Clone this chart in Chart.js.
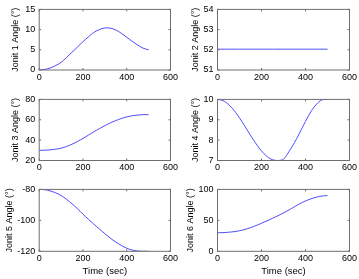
<!DOCTYPE html>
<html>
<head>
<meta charset="utf-8">
<script src="https://cdn.jsdelivr.net/npm/chart.js@4.4.1/dist/chart.umd.min.js"></script>
<style>
  body { margin: 0; background: #fff; }
  canvas { position: absolute; }
</style>
</head>
<body>
<canvas id="j1" style="left:0px;top:0px"></canvas>
<canvas id="j2" style="left:180px;top:0px"></canvas>
<canvas id="j3" style="left:0px;top:90px"></canvas>
<canvas id="j4" style="left:180px;top:90px"></canvas>
<canvas id="j5" style="left:0px;top:180px"></canvas>
<canvas id="j6" style="left:180px;top:180px"></canvas>
<script>
// time samples (sec)
const times = [0, 25, 50, 75, 100, 125, 150, 175, 200, 225, 250, 275, 300, 325, 350, 375, 400, 425, 450, 475, 500];

// joint angles (deg)
const joint1 = [0, 0.15, 0.5, 1.1, 1.9, 3.1, 4.4, 5.7, 7.0, 8.2, 9.3, 10.0, 10.4, 10.35, 9.9, 9.1, 8.1, 7.1, 6.2, 5.4, 5.0];
const joint2 = [52.03, 52.03, 52.03, 52.03, 52.03, 52.03, 52.03, 52.03, 52.03, 52.03, 52.03, 52.03, 52.03, 52.03, 52.03, 52.03, 52.03, 52.03, 52.03, 52.03, 52.03];
const joint3 = [30, 30.1, 30.5, 31.1, 32.1, 33.8, 36, 38.7, 41.7, 44.9, 48.2, 51.3, 54.2, 56.9, 59.2, 61.2, 62.8, 63.9, 64.6, 65, 65];
const joint4 = [10, 9.94, 9.75, 9.46, 9.09, 8.67, 8.24, 7.83, 7.47, 7.2, 7.04, 7.0, 7.07, 7.44, 7.88, 8.39, 8.92, 9.4, 9.76, 9.98, 10];
const joint5 = [-80, -80.2, -81, -82.2, -84, -86.4, -89.3, -92.5, -96, -99.3, -102.5, -105.6, -108.6, -111.5, -114, -116.2, -118, -119.2, -119.8, -120, -120];
const joint6 = [30, 30.2, 30.8, 31.7, 33.2, 35.3, 38.2, 41.6, 45.3, 49.2, 53.3, 57.5, 62, 66.8, 72, 77, 81.3, 84.8, 87.5, 89.3, 90];

// y axis limits [min, max, step]
const yLimits1 = [0, 15, 5];
const yLimits2 = [51, 54, 1];
const yLimits3 = [20, 80, 20];
const yLimits4 = [7, 10, 1];
const yLimits5 = [-120, -80, 20];
const yLimits6 = [0, 100, 50];

const FONT = 'Liberation Sans, Arial, sans-serif';

// MATLAB style box with inward ticks
const boxPlugin = {
  id: 'box',
  afterDatasetsDraw(chart) {
    const { ctx, chartArea: a, scales: { x, y } } = chart;
    ctx.save();
    ctx.strokeStyle = '#6e6e6e';
    ctx.lineWidth = 1;
    ctx.strokeRect(a.left, a.top, a.right - a.left, a.bottom - a.top);
    ctx.beginPath();
    x.ticks.forEach(t => {
      const px = x.getPixelForValue(t.value);
      ctx.moveTo(px, a.bottom); ctx.lineTo(px, a.bottom - 2);
      ctx.moveTo(px, a.top); ctx.lineTo(px, a.top + 2);
    });
    y.ticks.forEach(t => {
      const py = y.getPixelForValue(t.value);
      ctx.moveTo(a.left, py); ctx.lineTo(a.left + 2, py);
      ctx.moveTo(a.right, py); ctx.lineTo(a.right - 2, py);
    });
    ctx.stroke();
    ctx.restore();
  }
};

function makePanel(id, values, lim, title, g) {
  const canvas = document.getElementById(id);
  canvas.width = g.w;
  canvas.height = g.h;
  const pts = times.map((t, i) => ({ x: t, y: values[i] }));
  return new Chart(canvas.getContext('2d'), {
    type: 'line',
    data: {
      datasets: [{
        data: pts,
        borderColor: 'rgba(45,45,255,0.85)',
        borderWidth: 1,
        pointRadius: 0,
        tension: 0.4,
        fill: false
      }]
    },
    options: {
      responsive: false,
      animation: false,
      devicePixelRatio: 1,
      layout: { padding: { top: g.top, right: g.right, left: 0, bottom: 0 } },
      plugins: { legend: { display: false }, tooltip: { enabled: false } },
      scales: {
        x: {
          type: 'linear', min: 0, max: 600,
          grid: { display: false, drawTicks: false },
          border: { display: false },
          ticks: { stepSize: 200, autoSkip: false, maxRotation: 0, padding: 2, color: '#000', font: { family: FONT, size: 9 } },
          title: { display: g.xTitle, text: 'Time (sec)', color: '#000', font: { family: FONT, size: 9.5 }, padding: { top: 0, bottom: 2.4 } },
          afterFit: s => { s.height = g.xh; }
        },
        y: {
          min: lim[0], max: lim[1],
          grid: { display: false, drawTicks: false },
          border: { display: false },
          ticks: { stepSize: lim[2], padding: 4, color: '#000', font: { family: FONT, size: 9 } },
          title: { display: true, text: title, color: '#000', font: { family: FONT, size: 9 }, padding: { top: g.tp, bottom: 0 } },
          afterFit: s => { s.width = g.yw; }
        }
      }
    },
    plugins: [boxPlugin]
  });
}

makePanel('j1', joint1, yLimits1, 'Jonit 1 Angle (°)', { w: 180, h: 90, top: 5, right: 8.7, yw: 39.2, xh: 20, xTitle: false, tp: 10 });
makePanel('j2', joint2, yLimits2, 'Jonit 2 Angle (°)', { w: 179, h: 90, top: 5, right: 9, yw: 37.5, xh: 20, xTitle: false, tp: 10 });
makePanel('j3', joint3, yLimits3, 'Jonit 3 Angle (°)', { w: 180, h: 90, top: 5.7, right: 8.7, yw: 39.2, xh: 19.5, xTitle: false, tp: 10 });
makePanel('j4', joint4, yLimits4, 'Jonit 4 Angle (°)', { w: 179, h: 90, top: 5.7, right: 9, yw: 37.5, xh: 19.5, xTitle: false, tp: 10 });
makePanel('j5', joint5, yLimits5, 'Jonit 5 Angle (°)', { w: 180, h: 99, top: 6.3, right: 8.7, yw: 39.2, xh: 27.7, xTitle: true, tp: 4.6 });
makePanel('j6', joint6, yLimits6, 'Jonit 6 Angle (°)', { w: 179, h: 99, top: 6.3, right: 9, yw: 37.5, xh: 27.7, xTitle: true, tp: 5 });
</script>
</body>
</html>
